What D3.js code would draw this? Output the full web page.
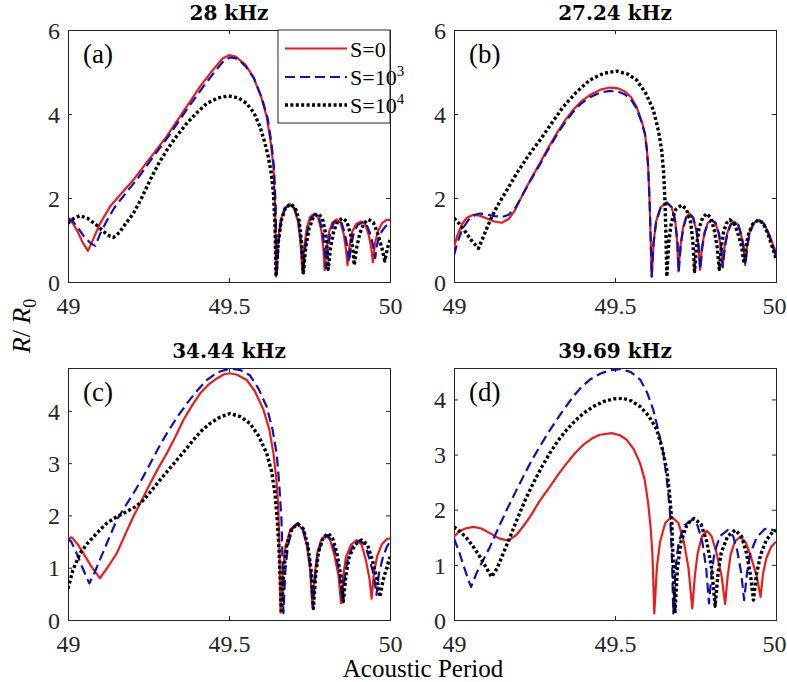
<!DOCTYPE html>
<html><head><meta charset="utf-8">
<script src="https://cdn.jsdelivr.net/npm/d3@7"></script>
<style>body{margin:0;background:#fff} svg{display:block}</style>
</head><body>
<svg id="c" width="787" height="682"></svg>
<script>
// ---------- data ----------
const xTicks = [49, 49.5, 50];
const xTickLabels = ["49", "49.5", "50"];
const titles = ["28 kHz", "27.24 kHz", "34.44 kHz", "39.69 kHz"];
const panelTags = ["(a)", "(b)", "(c)", "(d)"];
const yMaxes = [6, 6, 4.82, 4.57];
const yTicksTop = [0, 2, 4, 6];
const yTicksBottom = [0, 1, 2, 3, 4];
const seriesBase = ["S=0", "S=10", "S=10"];
const seriesSup = ["", "3", "4"];

const a_S0 = [[49.000,1.50],[49.015,1.40],[49.030,1.20],[49.045,0.95],[49.062,0.74],[49.080,1.05],[49.100,1.40],[49.130,1.79],[49.165,2.10],[49.203,2.43],[49.250,2.90],[49.306,3.46],[49.360,4.08],[49.410,4.65],[49.450,5.05],[49.480,5.32],[49.500,5.40],[49.520,5.37],[49.550,5.18],[49.575,4.89],[49.600,4.40],[49.617,3.94],[49.630,3.30],[49.638,2.75],[49.643,1.80],[49.646,0.13],
[49.652,0.95],[49.660,1.45],[49.672,1.75],[49.688,1.86],[49.702,1.75],[49.714,1.45],[49.722,0.95],[49.728,0.22],
[49.734,0.85],[49.742,1.30],[49.752,1.55],[49.765,1.63],[49.777,1.53],[49.787,1.22],[49.793,0.80],[49.797,0.28],
[49.803,0.80],[49.811,1.20],[49.821,1.42],[49.834,1.49],[49.846,1.42],[49.856,1.15],[49.863,0.80],[49.868,0.40],
[49.874,0.85],[49.883,1.20],[49.895,1.38],[49.910,1.44],[49.923,1.38],[49.934,1.12],[49.942,0.80],[49.947,0.47],
[49.953,0.90],[49.962,1.20],[49.975,1.40],[49.990,1.48],[50.000,1.48]];
const a_S3 = [[49.000,1.52],[49.015,1.45],[49.030,1.30],[49.050,1.08],[49.070,0.92],[49.085,0.86],[49.100,1.15],[49.120,1.45],[49.145,1.78],[49.180,2.12],[49.215,2.45],[49.260,2.93],[49.315,3.50],[49.370,4.12],[49.420,4.65],[49.460,5.05],[49.485,5.28],[49.505,5.35],[49.525,5.32],[49.550,5.15],[49.578,4.85],[49.602,4.38],[49.620,3.90],[49.632,3.30],[49.640,2.70],[49.645,1.80],[49.648,0.13],
[49.654,0.95],[49.662,1.45],[49.674,1.75],[49.690,1.86],[49.704,1.75],[49.716,1.45],[49.724,0.95],[49.731,0.24],
[49.737,0.85],[49.745,1.28],[49.755,1.53],[49.768,1.62],[49.780,1.52],[49.790,1.22],[49.796,0.85],[49.801,0.33],
[49.807,0.82],[49.815,1.18],[49.825,1.40],[49.838,1.48],[49.850,1.40],[49.860,1.15],[49.867,0.85],[49.873,0.48],
[49.879,0.88],[49.888,1.18],[49.900,1.36],[49.915,1.42],[49.928,1.36],[49.940,1.12],[49.948,0.85],[49.954,0.57],
[49.960,0.90],[49.970,1.15],[49.985,1.32],[50.000,1.40]];
const a_S4 = [[49.000,1.40],[49.015,1.50],[49.037,1.58],[49.060,1.52],[49.085,1.38],[49.110,1.20],[49.130,1.09],[49.141,1.06],[49.160,1.18],[49.180,1.40],[49.203,1.63],[49.230,2.02],[49.255,2.43],[49.280,2.80],[49.307,3.14],[49.340,3.50],[49.369,3.78],[49.400,4.03],[49.431,4.25],[49.465,4.38],[49.498,4.43],[49.530,4.38],[49.555,4.25],[49.578,4.02],[49.596,3.70],[49.610,3.35],[49.622,2.98],[49.632,2.55],[49.638,2.11],[49.643,1.30],[49.646,0.13],
[49.653,0.95],[49.662,1.45],[49.675,1.76],[49.692,1.86],[49.706,1.76],[49.718,1.45],[49.725,0.95],[49.731,0.22],
[49.738,0.80],[49.748,1.25],[49.762,1.55],[49.777,1.63],[49.790,1.52],[49.800,1.15],[49.805,0.75],[49.808,0.30],
[49.815,0.80],[49.825,1.20],[49.838,1.45],[49.852,1.52],[49.866,1.44],[49.878,1.12],[49.885,0.75],[49.889,0.40],
[49.896,0.80],[49.906,1.15],[49.919,1.40],[49.933,1.49],[49.948,1.42],[49.962,1.15],[49.975,0.80],[49.984,0.50],
[49.992,0.80],[50.000,1.00]];

const b_S0 = [[49.000,0.82],[49.010,1.10],[49.025,1.38],[49.040,1.53],[49.060,1.60],[49.080,1.58],[49.100,1.52],[49.125,1.44],[49.148,1.41],[49.170,1.50],[49.190,1.72],[49.215,2.11],[49.240,2.47],[49.267,2.83],[49.293,3.20],[49.319,3.54],[49.345,3.85],[49.370,4.10],[49.395,4.30],[49.422,4.45],[49.455,4.58],[49.484,4.63],[49.510,4.61],[49.530,4.54],[49.550,4.40],[49.567,4.17],[49.582,3.85],[49.593,3.54],[49.599,3.15],[49.603,2.75],[49.608,1.80],[49.614,0.13],
[49.620,0.95],[49.628,1.45],[49.642,1.78],[49.661,1.89],[49.676,1.78],[49.687,1.45],[49.693,0.95],[49.697,0.25],
[49.703,0.85],[49.711,1.28],[49.720,1.53],[49.731,1.63],[49.742,1.53],[49.752,1.25],[49.759,0.85],[49.764,0.29],
[49.770,0.82],[49.778,1.18],[49.788,1.40],[49.800,1.48],[49.812,1.40],[49.822,1.15],[49.829,0.80],[49.834,0.35],
[49.840,0.82],[49.848,1.15],[49.858,1.36],[49.870,1.44],[49.882,1.36],[49.892,1.12],[49.899,0.80],[49.904,0.40],
[49.910,0.85],[49.918,1.18],[49.930,1.40],[49.947,1.48],[49.962,1.40],[49.978,1.15],[49.990,0.90],[50.000,0.72]];
const b_S3 = [[49.000,0.64],[49.010,0.92],[49.025,1.25],[49.045,1.48],[49.065,1.60],[49.081,1.63],[49.100,1.61],[49.125,1.57],[49.150,1.55],[49.170,1.60],[49.192,1.78],[49.215,2.10],[49.240,2.45],[49.267,2.80],[49.293,3.16],[49.319,3.50],[49.345,3.80],[49.370,4.05],[49.395,4.25],[49.422,4.40],[49.455,4.51],[49.484,4.55],[49.510,4.53],[49.530,4.47],[49.550,4.34],[49.567,4.13],[49.582,3.82],[49.593,3.52],[49.599,3.15],[49.603,2.75],[49.608,1.80],[49.614,0.13],
[49.620,0.95],[49.628,1.45],[49.642,1.78],[49.661,1.89],[49.676,1.78],[49.687,1.45],[49.694,0.95],[49.698,0.25],
[49.704,0.85],[49.712,1.28],[49.721,1.53],[49.732,1.62],[49.743,1.53],[49.753,1.25],[49.760,0.85],[49.765,0.30],
[49.771,0.82],[49.779,1.18],[49.789,1.40],[49.801,1.47],[49.813,1.40],[49.823,1.15],[49.830,0.80],[49.835,0.36],
[49.841,0.82],[49.849,1.15],[49.859,1.36],[49.871,1.43],[49.883,1.36],[49.893,1.12],[49.900,0.80],[49.905,0.41],
[49.911,0.85],[49.919,1.18],[49.931,1.40],[49.948,1.47],[49.963,1.38],[49.979,1.10],[49.991,0.82],[50.000,0.62]];
const b_S4 = [[49.000,1.52],[49.015,1.40],[49.035,1.20],[49.055,0.98],[49.076,0.80],[49.095,1.15],[49.113,1.48],[49.133,1.79],[49.165,2.20],[49.195,2.59],[49.230,3.00],[49.267,3.38],[49.305,3.80],[49.339,4.17],[49.380,4.52],[49.422,4.81],[49.465,4.97],[49.505,5.02],[49.540,4.95],[49.567,4.81],[49.595,4.50],[49.619,4.10],[49.635,3.60],[49.645,3.14],[49.651,2.60],[49.655,1.95],[49.658,1.20],[49.661,0.13],
[49.667,0.95],[49.675,1.42],[49.689,1.73],[49.707,1.83],[49.722,1.73],[49.735,1.42],[49.742,0.95],[49.747,0.25],
[49.753,0.85],[49.761,1.28],[49.772,1.53],[49.785,1.63],[49.797,1.53],[49.808,1.25],[49.817,0.85],[49.824,0.30],
[49.830,0.82],[49.837,1.18],[49.846,1.40],[49.857,1.48],[49.870,1.40],[49.882,1.15],[49.893,0.85],[49.901,0.44],
[49.907,0.85],[49.915,1.15],[49.928,1.38],[49.945,1.48],[49.960,1.40],[49.975,1.15],[49.990,0.80],[50.000,0.56]];

const c_S0 = [[49.000,1.56],[49.012,1.58],[49.030,1.45],[49.050,1.25],[49.075,1.00],[49.099,0.80],[49.120,0.98],[49.151,1.27],[49.175,1.60],[49.203,1.98],[49.230,2.30],[49.255,2.61],[49.280,2.90],[49.307,3.19],[49.333,3.50],[49.358,3.82],[49.385,4.10],[49.410,4.33],[49.436,4.50],[49.462,4.62],[49.485,4.70],[49.503,4.72],[49.525,4.69],[49.555,4.59],[49.580,4.38],[49.607,4.02],[49.625,3.65],[49.638,3.19],[49.647,2.70],[49.653,2.17],[49.657,1.30],[49.660,0.14],
[49.667,0.95],[49.676,1.42],[49.691,1.74],[49.710,1.84],[49.728,1.74],[49.742,1.42],[49.752,0.95],[49.759,0.25],
[49.766,0.85],[49.774,1.28],[49.786,1.53],[49.800,1.63],[49.814,1.53],[49.827,1.25],[49.840,0.85],[49.848,0.32],
[49.855,0.85],[49.863,1.20],[49.879,1.44],[49.896,1.53],[49.912,1.44],[49.925,1.15],[49.936,0.80],[49.943,0.41],
[49.950,0.90],[49.960,1.22],[49.975,1.45],[49.990,1.55],[50.000,1.56]];
const c_S3 = [[49.000,1.55],[49.010,1.50],[49.025,1.30],[49.045,1.00],[49.066,0.70],[49.082,0.90],[49.099,1.15],[49.125,1.53],[49.151,1.91],[49.177,2.17],[49.203,2.42],[49.230,2.70],[49.255,2.99],[49.280,3.28],[49.307,3.57],[49.338,3.87],[49.369,4.14],[49.400,4.38],[49.431,4.59],[49.465,4.74],[49.503,4.81],[49.535,4.78],[49.565,4.68],[49.592,4.42],[49.617,4.08],[49.635,3.65],[49.648,3.19],[49.656,2.60],[49.663,1.91],[49.666,1.20],[49.669,0.13],
[49.675,0.95],[49.683,1.42],[49.696,1.74],[49.712,1.84],[49.730,1.74],[49.744,1.42],[49.754,0.95],[49.761,0.26],
[49.768,0.85],[49.776,1.28],[49.790,1.52],[49.805,1.62],[49.819,1.52],[49.832,1.25],[49.844,0.85],[49.852,0.36],
[49.860,0.85],[49.870,1.20],[49.886,1.43],[49.905,1.52],[49.922,1.44],[49.937,1.15],[49.950,0.85],[49.958,0.48],
[49.966,0.90],[49.978,1.20],[49.990,1.40],[50.000,1.50]];
const c_S4 = [[49.000,0.60],[49.015,0.95],[49.037,1.27],[49.058,1.45],[49.079,1.59],[49.100,1.73],[49.120,1.85],[49.150,1.97],[49.182,2.07],[49.210,2.17],[49.234,2.29],[49.260,2.48],[49.286,2.68],[49.312,2.87],[49.338,3.06],[49.364,3.25],[49.389,3.44],[49.415,3.62],[49.441,3.76],[49.472,3.88],[49.503,3.95],[49.535,3.89],[49.565,3.76],[49.592,3.52],[49.617,3.19],[49.632,2.85],[49.643,2.42],[49.650,1.90],[49.656,1.27],[49.660,0.60],[49.663,0.13],
[49.670,0.95],[49.679,1.42],[49.695,1.74],[49.714,1.84],[49.731,1.74],[49.745,1.42],[49.755,0.95],[49.762,0.22],
[49.769,0.85],[49.778,1.30],[49.792,1.56],[49.808,1.66],[49.822,1.56],[49.835,1.28],[49.847,0.85],[49.855,0.35],
[49.863,0.85],[49.873,1.20],[49.891,1.44],[49.912,1.53],[49.930,1.44],[49.945,1.15],[49.959,0.80],[49.969,0.44],
[49.978,0.75],[49.990,1.00],[50.000,1.21]];

const d_S0 = [[49.000,1.51],[49.015,1.60],[49.035,1.66],[49.060,1.69],[49.085,1.66],[49.110,1.58],[49.140,1.48],[49.169,1.44],[49.195,1.55],[49.215,1.70],[49.236,1.87],[49.265,2.15],[49.298,2.42],[49.325,2.65],[49.350,2.84],[49.375,3.02],[49.402,3.18],[49.428,3.29],[49.453,3.36],[49.490,3.39],[49.515,3.35],[49.536,3.27],[49.558,3.10],[49.578,2.84],[49.592,2.55],[49.603,2.12],[49.611,1.65],[49.616,1.21],[49.619,0.70],[49.622,0.12],
[49.630,0.95],[49.640,1.42],[49.656,1.76],[49.676,1.87],[49.697,1.76],[49.714,1.42],[49.728,0.95],[49.740,0.21],
[49.748,0.80],[49.757,1.22],[49.770,1.52],[49.785,1.62],[49.800,1.52],[49.815,1.22],[49.831,0.80],[49.842,0.29],
[49.850,0.80],[49.859,1.18],[49.872,1.42],[49.888,1.51],[49.905,1.42],[49.922,1.15],[49.940,0.80],[49.952,0.42],
[49.960,0.85],[49.970,1.12],[49.985,1.33],[50.000,1.42]];
const d_S3 = [[49.000,1.48],[49.015,1.25],[49.030,0.98],[49.045,0.72],[49.053,0.60],[49.070,0.85],[49.090,1.08],[49.112,1.33],[49.138,1.67],[49.164,2.00],[49.190,2.31],[49.215,2.60],[49.240,2.88],[49.267,3.15],[49.293,3.40],[49.319,3.63],[49.345,3.85],[49.370,4.05],[49.395,4.22],[49.422,4.36],[49.455,4.47],[49.485,4.53],[49.516,4.55],[49.548,4.50],[49.578,4.36],[49.600,4.12],[49.619,3.81],[49.636,3.40],[49.650,3.03],[49.662,2.50],[49.671,1.94],[49.677,1.10],[49.681,0.12],
[49.688,0.95],[49.698,1.42],[49.716,1.72],[49.738,1.81],[49.756,1.72],[49.771,1.42],[49.783,0.95],[49.792,0.30],
[49.800,0.85],[49.809,1.22],[49.826,1.52],[49.850,1.63],[49.867,1.52],[49.880,1.25],[49.892,0.85],[49.901,0.36],
[49.910,0.85],[49.920,1.20],[49.940,1.50],[49.965,1.65],[49.980,1.66],[50.000,1.60]];
const d_S4 = [[49.000,1.69],[49.020,1.60],[49.040,1.48],[49.060,1.33],[49.080,1.15],[49.100,0.95],[49.117,0.78],[49.135,0.95],[49.153,1.21],[49.175,1.52],[49.195,1.81],[49.220,2.16],[49.246,2.48],[49.272,2.77],[49.298,3.03],[49.324,3.26],[49.350,3.45],[49.376,3.61],[49.402,3.75],[49.433,3.87],[49.464,3.96],[49.495,4.01],[49.526,4.02],[49.552,3.97],[49.578,3.87],[49.605,3.70],[49.630,3.45],[49.647,3.10],[49.661,2.72],[49.670,2.25],[49.676,1.81],[49.681,1.00],[49.686,0.12],
[49.694,0.95],[49.705,1.42],[49.724,1.74],[49.745,1.84],[49.767,1.74],[49.785,1.42],[49.800,0.95],[49.811,0.25],
[49.820,0.85],[49.830,1.22],[49.850,1.52],[49.873,1.63],[49.893,1.52],[49.908,1.22],[49.921,0.80],[49.930,0.36],
[49.940,0.85],[49.952,1.18],[49.970,1.45],[49.990,1.60],[50.000,1.63]];

// ---------- layout / styles ----------
const boxes = [
  {x0:68, x1:390, y0:30, y1:282},
  {x0:454, x1:776, y0:30, y1:282},
  {x0:68, x1:390, y0:368, y1:620},
  {x0:454, x1:776, y0:368, y1:620}
];
const panelSeries = [[a_S0,a_S3,a_S4],[b_S0,b_S3,b_S4],[c_S0,c_S3,c_S4],[d_S0,d_S3,d_S4]];
const styles = [
  {color:"#e61e1e", width:2.2, dash:null},
  {color:"#1010b4", width:2.2, dash:"10,5"},
  {color:"#000000", width:3.4, dash:"3,2.4"}
];
const axisColor = "#262626";
const tickFont = "'Liberation Serif', serif";

const svg = d3.select("#c");
svg.append("rect").attr("width",787).attr("height",682).attr("fill","#fff");

boxes.forEach((b, i) => {
  const x = d3.scaleLinear().domain([49, 50]).range([b.x0, b.x1]);
  const y = d3.scaleLinear().domain([0, yMaxes[i]]).range([b.y1, b.y0]);
  const yt = i < 2 ? yTicksTop : yTicksBottom;
  const g = svg.append("g");

  const clipId = "clip" + i;
  svg.append("clipPath").attr("id", clipId).append("rect")
    .attr("x", b.x0).attr("y", b.y0).attr("width", b.x1 - b.x0).attr("height", b.y1 - b.y0);

  const tl = 4;
  const axB = d3.axisBottom(x).tickValues(xTicks).tickSize(-tl).tickFormat((d,k)=>xTickLabels[k]).tickPadding(0);
  const axT = d3.axisTop(x).tickValues(xTicks).tickSize(-tl).tickFormat("");
  const axL = d3.axisLeft(y).tickValues(yt).tickSize(-tl).tickFormat(d3.format("d"));
  const axR = d3.axisRight(y).tickValues(yt).tickSize(-tl).tickFormat("");

  const gB = g.append("g").attr("transform", `translate(0,${b.y1})`).call(axB);
  const gT = g.append("g").attr("transform", `translate(0,${b.y0})`).call(axT);
  const gL = g.append("g").attr("transform", `translate(${b.x0},0)`).call(axL);
  const gR = g.append("g").attr("transform", `translate(${b.x1},0)`).call(axR);
  [gB,gT,gL,gR].forEach(a => {
    a.select(".domain").attr("stroke", axisColor).attr("stroke-width", 1);
    a.selectAll(".tick line").attr("stroke", axisColor).attr("stroke-width", 1);
    a.selectAll(".tick text").attr("fill", axisColor).attr("font-family", tickFont).attr("font-size", 24);
  });
  gB.selectAll(".tick text").attr("dy", null).attr("y", 32);
  // keep the right-most label inside the picture
  gB.selectAll(".tick text").filter(d => d === 50 && b.x1 > 700).attr("text-anchor", "end").attr("x", 10);
  gL.selectAll(".tick text").attr("x", -8).attr("dy", "0.34em");

  const line = d3.line().x(d => x(d[0])).y(d => y(d[1])).curve(d3.curveLinear);
  const lg = svg.append("g").attr("clip-path", `url(#${clipId})`);
  panelSeries[i].forEach((s, k) => {
    const st = styles[k];
    lg.append("path").datum(s).attr("d", line)
      .attr("fill", "none").attr("stroke", st.color).attr("stroke-width", st.width)
      .attr("stroke-linejoin", "round")
      .attr("stroke-dasharray", st.dash);
  });

  svg.append("text").attr("x", (b.x0 + b.x1) / 2).attr("y", b.y0 - 10)
    .attr("text-anchor", "middle").attr("font-family", "'DejaVu Serif', serif")
    .attr("font-weight", "bold").attr("font-size", 20).attr("fill", "#000").text(titles[i]);
  svg.append("text").attr("x", b.x0 + 15).attr("y", b.y0 + 33)
    .attr("font-family", tickFont).attr("font-size", 27).attr("fill", "#000").text(panelTags[i]);
});

// legend in panel (a)
const L = {x0:278, x1:390, y0:30, y1:123};
const leg = svg.append("g");
leg.append("rect").attr("x", L.x0).attr("y", L.y0).attr("width", L.x1 - L.x0).attr("height", L.y1 - L.y0)
  .attr("fill", "#fff").attr("stroke", axisColor).attr("stroke-width", 1);
const rowY = [48.5, 77, 105];
seriesBase.forEach((name, k) => {
  const st = styles[k];
  leg.append("line").attr("x1", 285).attr("x2", 347).attr("y1", rowY[k]).attr("y2", rowY[k])
    .attr("stroke", st.color).attr("stroke-width", st.width).attr("stroke-dasharray", st.dash);
  const t = leg.append("text").attr("x", 350).attr("y", rowY[k] + 8)
    .attr("font-family", tickFont).attr("font-size", 22).attr("fill", "#000");
  t.append("tspan").text(name);
  if (seriesSup[k]) t.append("tspan").attr("dy", -9).attr("font-size", 15).text(seriesSup[k]);
});

svg.append("text").attr("x", 423).attr("y", 677).attr("text-anchor", "middle")
  .attr("font-family", tickFont).attr("font-size", 25).attr("fill", "#000").text("Acoustic Period");
const yl = svg.append("text").attr("transform", "translate(30,326) rotate(-90)").attr("text-anchor", "middle")
  .attr("font-family", tickFont).attr("font-size", 26).attr("fill", "#000");
yl.append("tspan").attr("font-style", "italic").text("R");
yl.append("tspan").text("/ ");
yl.append("tspan").attr("font-style", "italic").text("R");
yl.append("tspan").attr("dy", 6).attr("font-size", 18).text("0");
</script>
</body></html>
